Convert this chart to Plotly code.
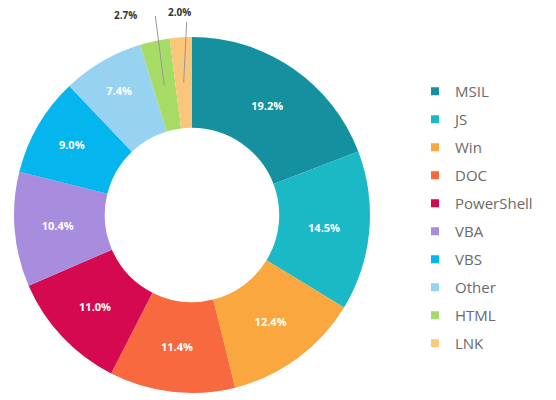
import math
import plotly.graph_objects as go

labels = ["MSIL", "JS", "Win", "DOC", "PowerShell", "VBA", "VBS", "Other", "HTML", "LNK"]
values = [19.2, 14.5, 12.4, 11.4, 11.0, 10.4, 9.0, 7.4, 2.7, 2.0]
colors = ["#14909f", "#1bb8c6", "#f9a73e", "#f9693f", "#d5094f",
          "#a88ddf", "#05b5ee", "#98d2f1", "#a6db66", "#f9c67b"]
outside = ["HTML", "LNK"]

W, H = 556, 400
cx, cy, R, hole = 192, 215, 178, 0.49

texttemplates = ["" if l in outside else "<b>%{value:.1f}%</b>" for l in labels]

fig = go.Figure()
fig.add_trace(go.Pie(
    labels=labels, values=values, sort=False, direction="clockwise", rotation=0,
    hole=hole, marker=dict(colors=colors, line=dict(width=0)),
    texttemplate=texttemplates, textposition="inside", insidetextorientation="horizontal",
    insidetextfont=dict(color="white", size=11, family="Open Sans"),
    showlegend=False, hoverinfo="label+value",
    domain=dict(x=[(cx - R) / W, (cx + R) / W], y=[1 - (cy + R) / H, 1 - (cy - R) / H]),
))

# legend entries
for i, (l, c) in enumerate(zip(labels, colors)):
    fig.add_trace(go.Scatter(x=[None], y=[None], mode="markers", name=l,
                             legendgroup=l,
                             marker=dict(symbol="square", size=8, color=c)))

# leader lines and labels for small slices
total = sum(values)
cum = 0
rmid = R * (1 + hole) / 2
# (text dx, text y, line-top dx, line-top y)
label_off = {"HTML": (-39, 15, -9, 16), "LNK": (-4, 12, 3, 22)}
shapes, annos = [], []
for l, v in zip(labels, values):
    mid = (cum + v / 2) / total * 2 * math.pi
    cum += v
    if l not in outside:
        continue
    px = cx + rmid * math.sin(mid)
    py = cy - rmid * math.cos(mid)
    tdx, ty, ldx, ly = label_off[l]
    shapes.append(dict(type="line", xref="paper", yref="paper",
                       x0=px / W, y0=1 - py / H, x1=(px + ldx) / W, y1=1 - ly / H,
                       line=dict(color="#999999", width=1)))
    annos.append(dict(xref="paper", yref="paper", x=(px + tdx) / W, y=1 - ty / H,
                      xanchor="center", yanchor="middle",
                      text="<b>%.1f%%</b>" % v, showarrow=False,
                      font=dict(size=10, color="#333333", family="Open Sans")))

fig.update_layout(
    width=W, height=H, margin=dict(l=0, r=0, t=0, b=0),
    paper_bgcolor="white", plot_bgcolor="white",
    xaxis=dict(visible=False), yaxis=dict(visible=False),
    shapes=shapes, annotations=annos,
    legend=dict(x=415 / W, xanchor="left", y=1 - 75 / H, yanchor="top",
                font=dict(size=15, color="#6a6a6a", family="Open Sans"),
                tracegroupgap=5.5, itemclick=False),
    font=dict(family="Open Sans"),
)
fig.write_html("out.html", config={"displayModeBar": False},
               post_script="document.body.style.margin='0';")
